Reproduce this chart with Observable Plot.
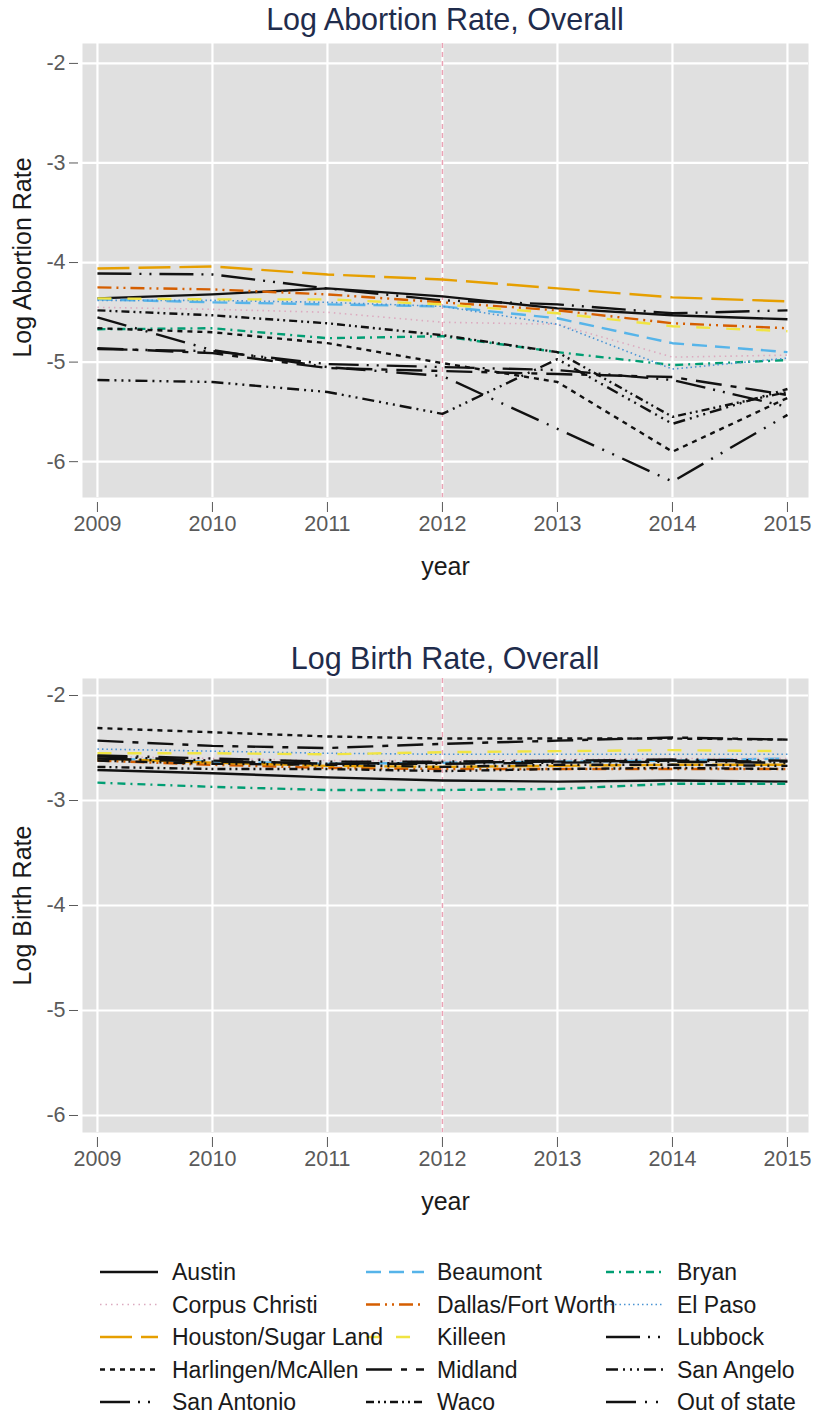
<!DOCTYPE html>
<html><head><meta charset="utf-8">
<script src="https://cdn.jsdelivr.net/npm/d3@7"></script>
<script src="https://cdn.jsdelivr.net/npm/@observablehq/plot@0.6"></script>
<style>
body{margin:0;background:#fff;font-family:"Liberation Sans",Arial,sans-serif;}
#root{position:relative;width:820px;height:1427px;overflow:hidden;background:#fff;}
.title{position:absolute;left:82px;width:726px;text-align:center;font-size:30.5px;line-height:30px;color:#1f2c4c;white-space:nowrap;}
.panel{position:absolute;left:0;}
.panel svg{display:block;}
#legend{position:absolute;left:0;}
</style></head><body><div id="root"></div>
<script>
// ---------- data ----------
const years = [2009, 2010, 2011, 2012, 2013, 2014, 2015];
const regions = ["Austin","Beaumont","Bryan","Corpus Christi","Dallas/Fort Worth","El Paso",
  "Houston/Sugar Land","Killeen","Lubbock","Harlingen/McAllen","Midland","San Angelo",
  "San Antonio","Waco","Out of state"];
const yTicks = [-6, -5, -4, -3, -2];

// Log abortion rate, by region (2009..2015)
const abortionAustin      = [-4.36, -4.32, -4.26, -4.34, -4.46, -4.53, -4.57];
const abortionBeaumont    = [-4.37, -4.40, -4.42, -4.44, -4.56, -4.81, -4.90];
const abortionBryan       = [-4.67, -4.66, -4.76, -4.74, -4.90, -5.03, -4.98];
const abortionCorpus      = [-4.45, -4.47, -4.50, -4.60, -4.62, -4.95, -4.93];
const abortionDallas      = [-4.25, -4.27, -4.32, -4.40, -4.48, -4.61, -4.66];
const abortionElPaso      = [-4.38, -4.38, -4.40, -4.44, -4.62, -5.07, -4.96];
const abortionHouston     = [-4.06, -4.04, -4.12, -4.17, -4.26, -4.35, -4.39];
const abortionKilleen     = [-4.36, -4.37, -4.37, -4.42, -4.51, -4.64, -4.69];
const abortionLubbock     = [-4.11, -4.12, -4.26, -4.38, -4.42, -4.51, -4.48];
const abortionHarlingen   = [-4.66, -4.70, -4.81, -5.01, -5.20, -5.90, -5.36];
const abortionMidland     = [-4.86, -4.91, -5.06, -5.09, -5.12, -5.15, -5.33];
const abortionSanAngelo   = [-5.18, -5.20, -5.30, -5.52, -4.97, -5.62, -5.27];
const abortionSanAntonio  = [-4.87, -4.89, -5.02, -5.05, -5.08, -5.18, -5.45];
const abortionWaco        = [-4.48, -4.53, -4.61, -4.73, -4.90, -5.55, -5.30];
const abortionOutOfState  = [-4.55, -4.88, -5.05, -5.14, -5.67, -6.20, -5.53];

// Log birth rate, by region (2009..2015)
const birthAustin      = [-2.71, -2.74, -2.78, -2.81, -2.82, -2.81, -2.82];
const birthBeaumont    = [-2.60, -2.63, -2.65, -2.64, -2.63, -2.62, -2.60];
const birthBryan       = [-2.83, -2.87, -2.90, -2.90, -2.89, -2.84, -2.84];
const birthCorpus      = [-2.58, -2.60, -2.62, -2.62, -2.61, -2.60, -2.60];
const birthDallas      = [-2.62, -2.66, -2.69, -2.70, -2.70, -2.70, -2.70];
const birthElPaso      = [-2.51, -2.53, -2.55, -2.56, -2.56, -2.56, -2.56];
const birthHouston     = [-2.60, -2.64, -2.67, -2.68, -2.67, -2.66, -2.66];
const birthKilleen     = [-2.55, -2.55, -2.56, -2.54, -2.53, -2.52, -2.53];
const birthLubbock     = [-2.60, -2.63, -2.65, -2.64, -2.63, -2.62, -2.63];
const birthHarlingen   = [-2.31, -2.35, -2.39, -2.41, -2.41, -2.41, -2.42];
const birthMidland     = [-2.43, -2.48, -2.50, -2.46, -2.43, -2.40, -2.42];
const birthSanAngelo   = [-2.62, -2.65, -2.66, -2.68, -2.66, -2.66, -2.67];
const birthSanAntonio  = [-2.58, -2.62, -2.65, -2.65, -2.64, -2.63, -2.64];
const birthWaco        = [-2.68, -2.70, -2.70, -2.72, -2.70, -2.69, -2.70];
const birthOutOfState  = [-2.57, -2.60, -2.63, -2.63, -2.62, -2.61, -2.62];

const abortionValues = [abortionAustin, abortionBeaumont, abortionBryan, abortionCorpus, abortionDallas,
  abortionElPaso, abortionHouston, abortionKilleen, abortionLubbock, abortionHarlingen, abortionMidland,
  abortionSanAngelo, abortionSanAntonio, abortionWaco, abortionOutOfState];
const birthValues = [birthAustin, birthBeaumont, birthBryan, birthCorpus, birthDallas,
  birthElPaso, birthHouston, birthKilleen, birthLubbock, birthHarlingen, birthMidland,
  birthSanAngelo, birthSanAntonio, birthWaco, birthOutOfState];

// ---------- styles ----------
const seriesColor = ["#111111","#56B4E9","#009E73","#dcaabf","#D55E00","#4a94d4",
  "#E69F00","#F0E442","#111111","#111111","#111111","#111111","#111111","#111111","#111111"];
const seriesDash = ["none","15,8","8,5,2,5","1.5,4","14,5,2,5,2,5","1.5,3",
  "32,9","14,16","34,8,2,8,2,8","5,5","26,9,6,9","12,5,2,5,2,5,2,5",
  "30,8,2,8,2,8","8,4,2,4,2,4","30,9,2,9,2,9"];
const seriesWidth = [2.4,2.4,2.4,1.6,2.4,1.6,2.4,2.4,2.4,2.4,2.4,2.4,2.4,2.4,2.4];

const FONT = "'Liberation Sans', Arial, sans-serif";
const root = document.getElementById("root");

function tidy(values) {
  return regions.flatMap((r, i) => years.map((yr, j) => ({region: r, year: yr, value: values[i][j]})));
}

function panel(values, yDomain, yLabel, labelDy) {
  const data = tidy(values);
  const lines = regions.map((r, i) => Plot.line(data.filter(d => d.region === r), {
    x: "year", y: "value", stroke: seriesColor[i], strokeWidth: seriesWidth[i],
    strokeDasharray: seriesDash[i], strokeLinecap: "butt", strokeLinejoin: "round"
  }));
  return Plot.plot({
    width: 820, height: 540,
    marginLeft: 82, marginRight: 12, marginTop: 3, marginBottom: 83,
    style: {fontFamily: FONT, background: "transparent", overflow: "visible"},
    x: {domain: [2008.87, 2015.183]},
    y: {domain: yDomain},
    marks: [
      Plot.frame({fill: "#e0e0e0", stroke: "none"}),
      Plot.gridX(years, {stroke: "#ffffff", strokeOpacity: 1, strokeWidth: 2.2}),
      Plot.gridY(yTicks, {stroke: "#ffffff", strokeOpacity: 1, strokeWidth: 2.2}),
      Plot.ruleX([2012], {stroke: "#eaa3b5", strokeDasharray: "5,4", strokeWidth: 1.5}),
      ...lines,
      Plot.axisX(years, {tickSize: 10, dy: 5, tickPadding: 3, fontSize: 21.5, color: "#5a5a5a",
        tickFormat: d => String(d), label: null}),
      Plot.axisY(yTicks, {tickSize: 9, dx: -4, tickPadding: 4, fontSize: 21.5, color: "#5a5a5a",
        tickFormat: d => String(d), label: null}),
      Plot.text(["year"], {frameAnchor: "bottom", dy: 77, fontSize: 25, fill: "#1a1a1a"}),
      Plot.text([yLabel], {frameAnchor: "left", textAnchor: "middle", dx: -60, dy: labelDy,
        rotate: -90, fontSize: 25, fill: "#1a1a1a"})
    ]
  });
}

function addTitle(text, top) {
  const t = document.createElement("div");
  t.className = "title";
  t.style.top = top + "px";
  t.textContent = text;
  root.appendChild(t);
}
function addPanel(svg, top) {
  const d = document.createElement("div");
  d.className = "panel";
  d.style.top = top + "px";
  d.appendChild(svg);
  root.appendChild(d);
}

addTitle("Log Abortion Rate, Overall", 4);
addPanel(panel(abortionValues, [-6.36, -1.80], "Log Abortion Rate", -13), 40);
addTitle("Log Birth Rate, Overall", 643);
addPanel(panel(birthValues, [-6.162, -1.838], "Log Birth Rate", 0), 675);

// ---------- legend ----------
const legendTop = 1240;
const lg = d3.create("svg").attr("width", 820).attr("height", 187)
  .style("font-family", FONT);
const lineX = [100, 366, 606], textX = [172, 437, 677];
regions.forEach((r, i) => {
  const row = Math.floor(i / 3), col = i % 3;
  const y = 1272 + row * 32.5 - legendTop;
  lg.append("line").attr("x1", lineX[col]).attr("x2", lineX[col] + 58)
    .attr("y1", y).attr("y2", y)
    .attr("stroke", seriesColor[i]).attr("stroke-width", seriesWidth[i])
    .attr("stroke-dasharray", seriesDash[i]);
});
regions.forEach((r, i) => {
  const row = Math.floor(i / 3), col = i % 3;
  const y = 1272 + row * 32.5 - legendTop;
  lg.append("text").attr("x", textX[col]).attr("y", y).attr("dy", "0.35em")
    .attr("font-size", 23).attr("fill", "#1a1a1a").text(r);
});
const ld = document.createElement("div");
ld.id = "legend";
ld.style.top = legendTop + "px";
ld.appendChild(lg.node());
root.appendChild(ld);
</script>
</body></html>
